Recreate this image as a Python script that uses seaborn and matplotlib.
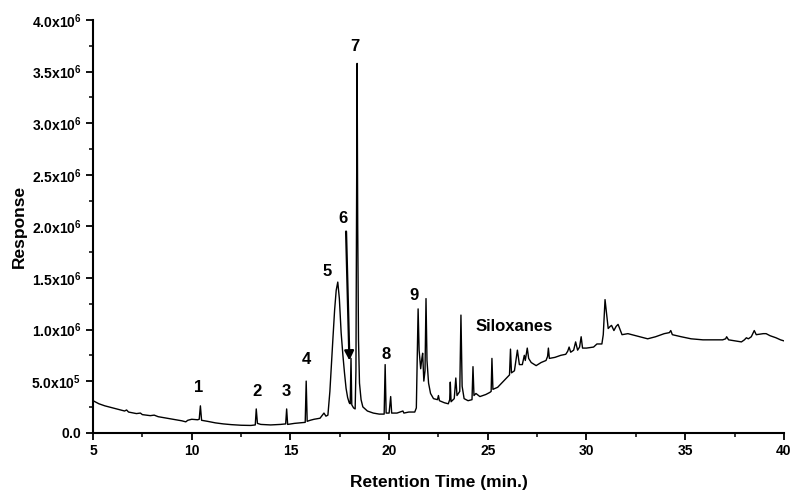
""" Chromatogram: response vs retention time """

import matplotlib
matplotlib.use("Agg")
import matplotlib.pyplot as plt
import pandas as pd
import seaborn as sns

# retention time (min.) and detector response (x10^6)
retention_time = [
    5.0, 5.3, 5.6, 6.0, 6.4, 6.6, 6.7, 6.8, 7.2, 7.4, 7.5, 7.9, 8.1, 8.3, 8.6,
    8.9, 9.2, 9.5, 9.7, 9.8, 10.0, 10.3, 10.38, 10.44, 10.5, 10.8, 11.2, 11.6,
    12.0, 12.5, 13.0, 13.22, 13.27, 13.33, 13.5, 14.0, 14.5, 14.76, 14.81,
    14.86, 15.2, 15.5, 15.75, 15.8, 15.85, 16.0, 16.2, 16.5, 16.7, 16.8, 16.9,
    17.0, 17.07, 17.15, 17.24, 17.32, 17.4, 17.48, 17.57, 17.66, 17.74, 17.82,
    17.9, 17.98, 18.03, 18.07, 18.11, 18.2, 18.28, 18.32, 18.36, 18.38, 18.41,
    18.45, 18.5, 18.58, 18.67, 18.9, 19.2, 19.5, 19.75, 19.8, 19.85, 20.0,
    20.08, 20.13, 20.4, 20.7, 20.75, 21.0, 21.3, 21.38, 21.44, 21.47, 21.52,
    21.6, 21.66, 21.7, 21.76, 21.82, 21.87, 21.92, 22.0, 22.1, 22.25, 22.45,
    22.5, 22.55, 22.8, 23.0, 23.07, 23.1, 23.14, 23.3, 23.38, 23.44, 23.58,
    23.64, 23.7, 23.8, 24.0, 24.2, 24.25, 24.3, 24.4, 24.6, 24.9, 25.1, 25.17,
    25.21, 25.26, 25.5, 25.8, 26.0, 26.1, 26.15, 26.2, 26.35, 26.5, 26.6,
    26.75, 26.85, 26.9, 27.0, 27.07, 27.2, 27.45, 27.7, 27.95, 28.03, 28.07,
    28.12, 28.4, 28.7, 28.95, 29.05, 29.12, 29.2, 29.35, 29.45, 29.55, 29.65,
    29.73, 29.8, 30.0, 30.36, 30.53, 30.78, 30.85, 30.94, 31.02, 31.1, 31.2,
    31.27, 31.39, 31.5, 31.6, 31.7, 31.8, 32.1, 32.5, 33.1, 33.5, 33.94, 34.2,
    34.27, 34.35, 34.8, 35.3, 35.9, 36.47, 36.9, 37.05, 37.1, 37.2, 37.85,
    38.0, 38.1, 38.2, 38.35, 38.5, 38.6, 38.96, 39.1, 39.3, 39.6, 39.83, 40.0,
]
response = [
    0.31, 0.28, 0.26, 0.24, 0.22, 0.21, 0.22, 0.20, 0.185, 0.19, 0.175, 0.165,
    0.17, 0.155, 0.145, 0.135, 0.125, 0.115, 0.105, 0.12, 0.13, 0.125, 0.13,
    0.26, 0.12, 0.11, 0.095, 0.085, 0.078, 0.072, 0.07, 0.075, 0.23, 0.09,
    0.08, 0.075, 0.08, 0.085, 0.23, 0.08, 0.09, 0.095, 0.10, 0.50, 0.11, 0.12,
    0.13, 0.14, 0.19, 0.16, 0.17,
    0.40, 0.64, 0.90, 1.19, 1.38, 1.46, 1.30, 0.97, 0.75, 0.58, 0.43,
    0.34, 0.29, 0.28, 0.72, 0.27, 0.24, 0.23, 0.60, 2.48, 3.58, 2.00,
    0.90, 0.48, 0.32, 0.25, 0.21, 0.19, 0.18, 0.18, 0.66, 0.19, 0.19,
    0.35, 0.19, 0.19, 0.21, 0.19, 0.20, 0.20, 0.24, 0.90, 1.20, 0.80,
    0.62, 0.72, 0.77, 0.50, 0.60, 1.30, 0.70, 0.48, 0.38, 0.33, 0.32,
    0.36, 0.31, 0.29, 0.28, 0.32, 0.49, 0.30, 0.33, 0.53, 0.36, 0.40,
    1.14, 0.45, 0.33, 0.31, 0.32, 0.64, 0.36, 0.38, 0.35, 0.37, 0.39, 0.40,
    0.72, 0.42, 0.44, 0.50, 0.54, 0.56, 0.81, 0.58, 0.60, 0.80, 0.66,
    0.66, 0.75, 0.70, 0.82, 0.72, 0.68, 0.65, 0.68, 0.70, 0.74, 0.82,
    0.72, 0.73, 0.75, 0.76, 0.79, 0.83, 0.78, 0.80, 0.88, 0.80, 0.83,
    0.93, 0.82, 0.82, 0.83, 0.86, 0.86, 0.95, 1.29, 1.15, 1.01, 1.03,
    1.04, 0.99, 1.03, 1.05, 1.00, 0.95, 0.96, 0.94, 0.91, 0.93, 0.96, 0.97,
    0.99, 0.95, 0.93, 0.91, 0.90, 0.90, 0.90, 0.91, 0.93, 0.90, 0.88,
    0.90, 0.92, 0.91, 0.93, 0.99, 0.95, 0.96, 0.96, 0.94, 0.92, 0.90, 0.89,
]

# peak annotations: label, time, response (x10^6) of the label centre
peak_labels = ["1", "2", "3", "4", "5", "6", "7", "8", "9", "Siloxanes"]
peak_label_time = [10.34, 13.3, 14.78, 15.8, 16.85, 17.69, 18.27, 19.87, 21.26, 26.35]
peak_label_resp = [0.44, 0.40, 0.40, 0.71, 1.56, 2.08, 3.74, 0.76, 1.33, 1.03]

x_ticks = [5, 10, 15, 20, 25, 30, 35, 40]
y_ticks = [0, 0.5e6, 1.0e6, 1.5e6, 2.0e6, 2.5e6, 3.0e6, 3.5e6, 4.0e6]
y_tick_labels = [
    r"$\mathbf{0.0}$", r"$\mathbf{5.0x10^5}$", r"$\mathbf{1.0x10^6}$",
    r"$\mathbf{1.5x10^6}$", r"$\mathbf{2.0x10^6}$", r"$\mathbf{2.5x10^6}$",
    r"$\mathbf{3.0x10^6}$", r"$\mathbf{3.5x10^6}$", r"$\mathbf{4.0x10^6}$",
]

sns.set_style("ticks")
plt.rcParams["font.family"] = ["Liberation Sans", "DejaVu Sans"]
plt.rcParams["font.weight"] = "bold"
plt.rcParams["mathtext.fontset"] = "custom"
plt.rcParams["mathtext.rm"] = "Liberation Sans"
plt.rcParams["mathtext.bf"] = "Liberation Sans:bold"
plt.rcParams["text.color"] = "black"
plt.rcParams["axes.labelcolor"] = "black"
plt.rcParams["xtick.color"] = "black"
plt.rcParams["ytick.color"] = "black"

df = pd.DataFrame({
    "time": retention_time,
    "response": [r * 1e6 for r in response],
})

fig = plt.figure(figsize=(7.95, 4.9), dpi=100)
ax = fig.add_axes([0.117, 0.117, 0.869, 0.842])

sns.lineplot(data=df, x="time", y="response", estimator=None, sort=False,
             color="black", linewidth=1.0, ax=ax)

# peak labels
for label, t, r in zip(peak_labels, peak_label_time, peak_label_resp):
    ax.text(t, r * 1e6, label, ha="center", va="center",
            fontsize=12, fontweight="bold", color="black")

# arrow pointing at peak 6
ax.annotate("", xy=(17.99, 0.70e6), xytext=(17.82, 1.95e6),
            arrowprops=dict(arrowstyle="-|>", color="black", lw=1.6,
                            mutation_scale=14, shrinkA=0, shrinkB=0))

ax.set_xlim(5, 40)
ax.set_ylim(0, 4.0e6)
ax.set_xticks(x_ticks)
ax.set_xticklabels([str(x) for x in x_ticks], fontsize=10, fontweight="bold")
ax.set_yticks(y_ticks)
ax.set_yticklabels(y_tick_labels, fontsize=10)
ax.set_xticks([7.5, 12.5, 17.5, 22.5, 27.5, 32.5, 37.5], minor=True)
ax.set_yticks([0.25e6, 0.75e6, 1.25e6, 1.75e6, 2.25e6, 2.75e6, 3.25e6, 3.75e6],
              minor=True)
ax.tick_params(which="major", direction="out", length=5, width=1.3, colors="black")
ax.tick_params(which="minor", direction="out", length=3, width=1.1, colors="black")

ax.set_xlabel("Retention Time (min.)", fontsize=12.5, fontweight="bold", labelpad=12)
ax.set_ylabel("Response", fontsize=12.5, fontweight="bold", labelpad=3)

sns.despine(ax=ax)
for side in ["left", "bottom"]:
    ax.spines[side].set_linewidth(1.5)
    ax.spines[side].set_color("black")

fig.savefig("out.png", dpi=100)
